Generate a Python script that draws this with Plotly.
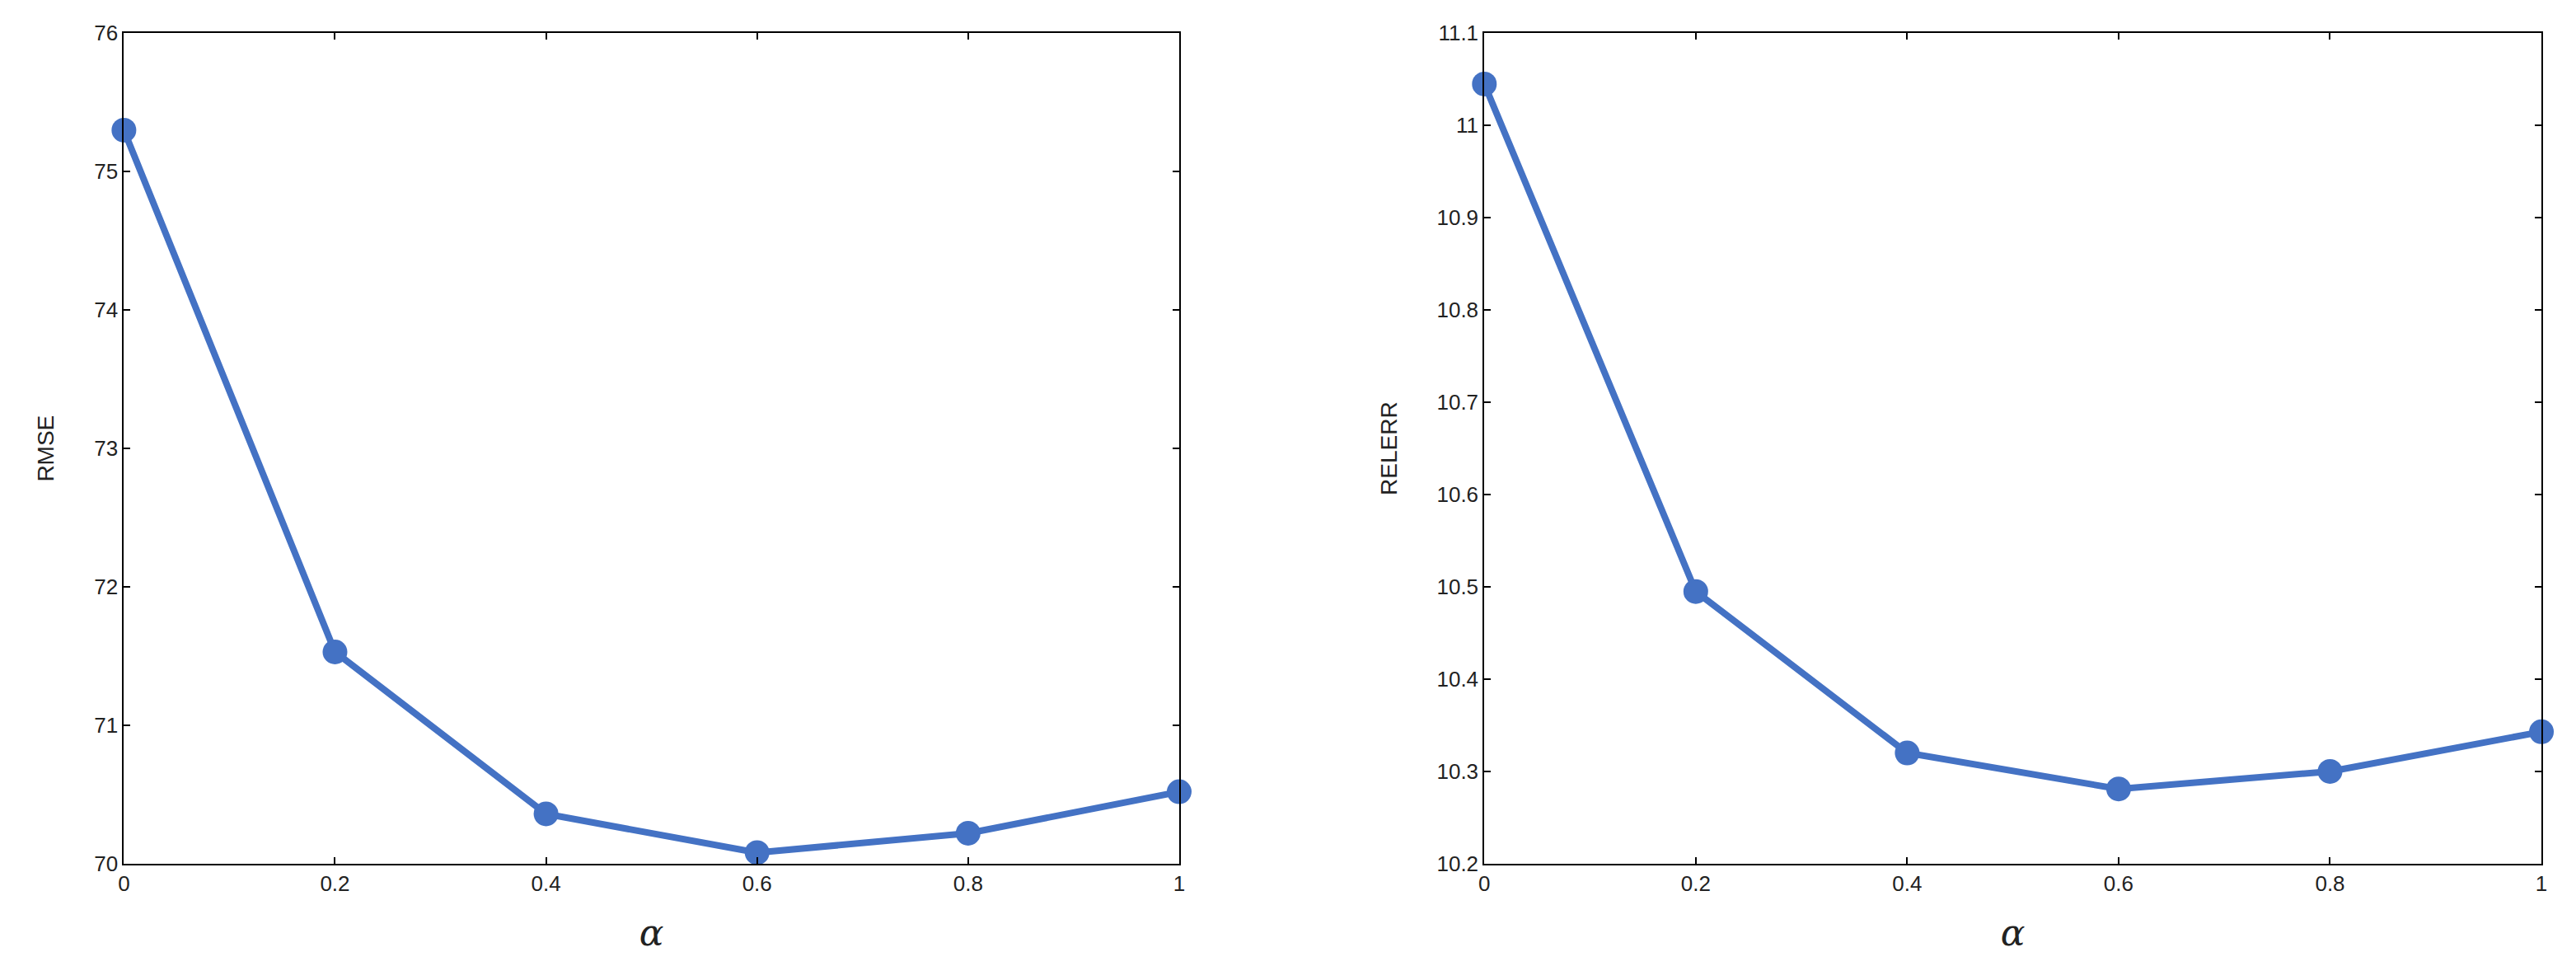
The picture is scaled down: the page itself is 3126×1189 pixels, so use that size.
import plotly.graph_objects as go

alpha = [0, 0.2, 0.4, 0.6, 0.8, 1]
rmse = [75.30, 71.53, 70.36, 70.08, 70.22, 70.52]
relerr = [11.045, 10.495, 10.320, 10.281, 10.300, 10.343]
color = "#4472C4"

fig = go.Figure()
fig.add_trace(go.Scatter(x=alpha, y=rmse, mode="lines+markers", xaxis="x", yaxis="y", cliponaxis=False,
                         line=dict(color=color, width=8), marker=dict(size=30, color=color), showlegend=False))
fig.add_trace(go.Scatter(x=alpha, y=relerr, mode="lines+markers", xaxis="x2", yaxis="y2", cliponaxis=False,
                         line=dict(color=color, width=8), marker=dict(size=30, color=color), showlegend=False))

ax = dict(showline=True, linecolor="black", linewidth=2, mirror="ticks", ticks="inside",
          ticklen=8, tickwidth=1.5, tickcolor="black", showgrid=False, zeroline=False,
          tickfont=dict(size=26, color="#222"))
xt = dict(tickvals=alpha, ticktext=["0", "0.2", "0.4", "0.6", "0.8", "1"], range=[0, 1],
          title=dict(text="α", font=dict(family="DejaVu Serif", size=44, style="italic", color="#222"), standoff=30))
fig.update_layout(
    width=3126, height=1189, margin=dict(l=0, r=0, t=0, b=0),
    plot_bgcolor="white", paper_bgcolor="white",
    font=dict(family="Liberation Sans", color="#222"),
    xaxis=dict(domain=[0.0435, 0.455], anchor="y", **ax, **xt),
    yaxis=dict(domain=[0.1157, 0.985], anchor="x", range=[70, 76], dtick=1,
               title=dict(text="RMSE", font=dict(size=28), standoff=40), **ax),
    xaxis2=dict(domain=[0.574, 0.9862], anchor="y2", **ax, **xt),
    yaxis2=dict(domain=[0.1157, 0.985], anchor="x2", range=[10.2, 11.1], dtick=0.1,
                title=dict(text="RELERR", font=dict(size=28), standoff=40), **ax),
)
fig.write_html("out.html")
